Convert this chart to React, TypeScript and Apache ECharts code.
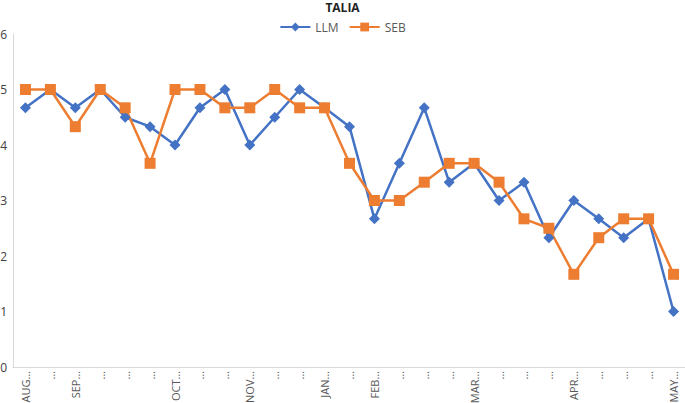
import React, { useEffect, useRef } from "react";
import * as echarts from "echarts";

const categories = [
  "AUG…", "…", "SEP…", "…", "…", "…", "OCT…", "…", "…", "NOV…", "…", "…",
  "JAN…", "…", "FEB…", "…", "…", "…", "MAR…", "…", "…", "…", "APR…", "…", "…", "…", "MAY…",
];
const llm = [4.67, 5, 4.67, 5, 4.5, 4.33, 4, 4.67, 5, 4, 4.5, 5, 4.67, 4.33, 2.67, 3.67, 4.67, 3.33, 3.67, 3, 3.33, 2.33, 3, 2.67, 2.33, 2.67, 1];
const seb = [5, 5, 4.33, 5, 4.67, 3.67, 5, 5, 4.67, 4.67, 5, 4.67, 4.67, 3.67, 3, 3, 3.33, 3.67, 3.67, 3.33, 2.67, 2.5, 1.67, 2.33, 2.67, 2.67, 1.67];
const yTicks = [0, 1, 2, 3, 4, 5, 6];

export default function App() {
  const ref = useRef<HTMLDivElement>(null);
  useEffect(() => {
    if (!ref.current) return;
    const chart = echarts.init(ref.current, null, { renderer: "svg" });
    chart.setOption({
      animation: false,
      textStyle: { fontFamily: "'Open Sans', 'Noto Sans', sans-serif" },
      title: {
        text: "TALIA",
        left: "center",
        top: -4,
        textStyle: { fontSize: 12, fontWeight: "bold", color: "#222" },
      },
      legend: {
        top: 16,
        left: "center",
        itemWidth: 30,
        itemHeight: 11,
        itemGap: 10,
        textStyle: { fontSize: 12, color: "#595959" },
        data: ["LLM", "SEB"],
      },
      grid: { left: 13, right: -1, top: 34, bottom: 36, containLabel: false, outerBoundsMode: "none" },
      xAxis: {
        type: "category",
        data: categories.map((_, i) => String(i)),
        boundaryGap: true,
        axisLine: { lineStyle: { color: "#d9d9d9", width: 1 } },
        axisTick: { show: false },
        axisLabel: {
          interval: 0,
          rotate: 90,
          fontSize: 11,
          color: "#595959",
          margin: 4,
          formatter: (v: string) => categories[Number(v)],
        },
      },
      yAxis: {
        type: "value",
        min: yTicks[0],
        max: yTicks[yTicks.length - 1],
        interval: 1,
        splitLine: { show: false },
        axisLine: { show: true, lineStyle: { color: "#d9d9d9" } },
        axisTick: { show: false },
        axisLabel: { fontSize: 12, color: "#404040", margin: 6 },
      },
      series: [
        {
          name: "LLM",
          type: "line",
          data: llm,
          symbol: "diamond",
          symbolSize: 11,
          lineStyle: { color: "#4472C4", width: 2.5 },
          itemStyle: { color: "#4472C4" },
        },
        {
          name: "SEB",
          type: "line",
          data: seb,
          symbol: "rect",
          symbolSize: 11,
          lineStyle: { color: "#ED7D31", width: 2.5 },
          itemStyle: { color: "#ED7D31" },
        },
      ],
    });
    return () => chart.dispose();
  }, []);
  return (
    <div
      ref={ref}
      style={{ position: "fixed", left: 0, top: 0, width: 685, height: 403, background: "#fff" }}
    />
  );
}
